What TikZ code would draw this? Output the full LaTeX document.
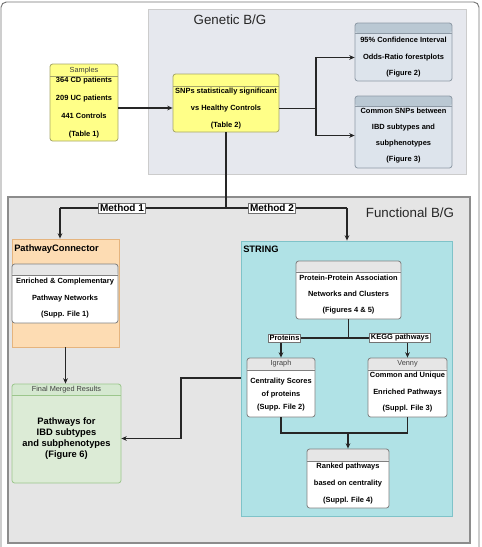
\documentclass[tikz,border=0pt]{standalone}
\usepackage{fontspec}
\setmainfont{Liberation Sans}
\usetikzlibrary{calc, positioning, fit}
\usetikzlibrary{arrows.meta}

\definecolor{yelfill}{HTML}{FFFF88}
\definecolor{yelline}{HTML}{A6A66A}
\definecolor{blufill}{HTML}{DDE4EC}
\definecolor{bluhead}{HTML}{BAC8D3}
\definecolor{bluline}{HTML}{8E9AA6}
\definecolor{orfill}{HTML}{FDDCB3}
\definecolor{orline}{HTML}{E5B47E}
\definecolor{grnfill}{HTML}{DCEBD6}
\definecolor{grnhead}{HTML}{D5E8D0}
\definecolor{grnline}{HTML}{9CC68C}
\definecolor{strfill}{HTML}{B0E2E6}
\definecolor{strline}{HTML}{7FC3C9}
\definecolor{genfill}{HTML}{E6E8EE}
\definecolor{funcfill}{HTML}{E5E5E5}
\definecolor{grayhead}{HTML}{E6E6E6}

\begin{document}
\begin{tikzpicture}[x=0.75pt, y=-0.75pt,
  box/.style={draw=#1, rounded corners=2pt, line width=0.6pt, inner sep=0pt},
  hdr/.style n args={3}{path picture={
      \fill[#2] (path picture bounding box.north west) rectangle ([yshift=-#1]path picture bounding box.north east);
      \draw[#3, line width=0.6pt] ([yshift=-#1]path picture bounding box.north west) -- ([yshift=-#1]path picture bounding box.north east);}},
  txt/.style={font=\fontsize{5.6}{#1}\selectfont\bfseries, align=center, inner sep=0pt},
  bigtxt/.style={font=\fontsize{7}{8.3}\selectfont\bfseries, align=center, inner sep=0pt},
  hdtxt/.style={font=\fontsize{5.5}{6}\selectfont, text=black!75, inner sep=0pt},
  boxtitle/.style={font=\fontsize{7}{8}\selectfont\bfseries, anchor=west, inner sep=0pt},
  meth/.style={draw=black!55, fill=white, line width=0.5pt, inner sep=1pt, font=\fontsize{7.5}{8}\selectfont\bfseries},
  tag/.style={draw=black!55, fill=white, line width=0.5pt, inner sep=1pt, font=\fontsize{5.6}{6}\selectfont\bfseries},
  title/.style={font=\fontsize{10}{12}\selectfont, text=black!85, inner sep=0pt},
  link/.style={line width=0.8pt, black!85},
  arr/.style={link, -{Stealth[length=4pt, width=3.5pt]}}
]
\useasboundingbox (0,0) rectangle (482,547);

% frame and background panels
\draw[black!55, line width=0.7pt, rounded corners=4pt] (1,549) -- (1,2) -- (479,2) -- (479,549);
\node[fill=genfill, draw=black!20, line width=0.6pt, inner sep=0pt, fit={(148,9) (466,174)}] (genetic) {};
\node[title] (genetic-l) at (230,20) {Genetic B/G};
\node[fill=funcfill, draw=black!45, line width=0.9pt, inner sep=0pt, fit={(8,197) (470,543)}] (functional) {};
\node[title] (functional-l) at (410,213) {Functional B/G};

% genetic part
\node[box=yelline, fill=yelfill, hdr={9pt}{yelfill}{yelline}, fit={(50,64) (118,141)}] (samples) {};
\node[hdtxt] (samples-h) at (84,70.5) {Samples};
\node[txt=13.5pt] (samples-t) at (84,108) {364 CD patients\\209 UC patients\\441 Controls\\(Table 1)};

\node[box=yelline, fill=yelfill, hdr={9pt}{yelfill}{yelline}, fit={(173,74) (279,132)}] (snps) {};
\node[txt=12.75pt] (snps-t) at (226,108.5) {SNPs statistically significant\\vs Healthy Controls\\(Table 2)};

\node[box=bluline, fill=blufill, hdr={7.5pt}{bluhead}{bluline}, fit={(355,23) (452,81)}] (ci) {};
\node[txt=12.4pt] (ci-t) at (403.5,57.5) {95\% Confidence Interval\\Odds-Ratio forestplots\\(Figure 2)};

\node[box=bluline, fill=blufill, hdr={7.5pt}{bluhead}{bluline}, fit={(355,96) (452,168)}] (common) {};
\node[txt=11.8pt] (common-t) at (403.5,135.5) {Common SNPs between\\IBD subtypes and\\subphenotypes\\(Figure 3)};

% functional part, method 1
\node[box=orline, rounded corners=0pt, fill=orfill, fit={(12,239) (119,347)}] (pc) {};
\node[boxtitle] (pc-l) at (14,249) {PathwayConnector};
\node[box=black!50, fill=white, hdr={8.25pt}{grayhead}{black!50}, fit={(12,264) (118,323)}] (pcnet) {};
\node[txt=12.4pt] (pcnet-t) at (65,298.5) {Enriched \& Complementary\\Pathway Networks\\(Supp. File 1)};

\node[box=grnline, fill=grnfill, hdr={8.25pt}{grnhead}{grnline}, fit={(12,384) (121,483)}] (final) {};
\node[hdtxt] (final-h) at (66.5,390) {Final Merged Results};
\node[bigtxt] (final-t) at (66.5,438.5) {Pathways for\\IBD subtypes\\and subphenotypes\\(Figure 6)};

% functional part, method 2
\node[box=strline, rounded corners=0pt, fill=strfill, fit={(241,241) (452,516)}] (string) {};
\node[boxtitle] (string-l) at (243,249) {STRING};
\node[box=black!50, fill=white, hdr={8.25pt}{grayhead}{black!50}, fit={(296,261) (401,319)}] (ppa) {};
\node[txt=12pt] (ppa-t) at (348.5,295) {Protein-Protein Association\\Networks and Clusters\\(Figures 4 \& 5)};

\node[box=black!50, fill=white, hdr={9pt}{grayhead}{black!50}, fit={(247,358) (315,417)}] (igraph) {};
\node[hdtxt] (igraph-h) at (281,364) {Igraph};
\node[txt=10pt] (igraph-t) at (281,394.5) {Centrality Scores\\of proteins\\(Supp. File 2)};

\node[box=black!50, fill=white, hdr={9pt}{grayhead}{black!50}, fit={(368,358) (447,417)}] (venny) {};
\node[hdtxt] (venny-h) at (407.5,364) {Venny};
\node[txt=12.4pt] (venny-t) at (407.5,392.5) {Common and Unique\\Enriched Pathways\\(Suppl. File 3)};

\node[box=black!50, fill=white, hdr={9pt}{grayhead}{black!50}, fit={(307,449) (389,508)}] (ranked) {};
\node[txt=12.75pt] (ranked-t) at (348,484) {Ranked pathways\\based on centrality\\(Suppl. File 4)};

% connectors
\coordinate (g) at (316,0);
\draw[arr] (samples.east |- samples-t) -- (snps.west |- samples-t);
\draw[link] (snps.east |- snps-t) -- (g |- snps-t);
\draw[arr] (g |- snps-t) |- (ci.west |- ci-t);
\draw[arr] (g |- snps-t) |- (common.west |- common-t);

\coordinate (m1) at (60,208);
\coordinate (m2) at (347,208);
\draw[link] (snps.south) -- (snps.south |- m1);
\draw[link] (m1) -- (m2);
\draw[arr] (m1) -- (m1 |- pc.north);
\draw[arr] (m2) -- (m2 |- string.north);
\node[meth] (meth1) at (122,208) {Method 1};
\node[meth] (meth2) at (272,208) {Method 2};

\draw[arr] (pc.south) -- (pc.south |- final.north);
\coordinate (k) at (181,378);
\draw[arr] (string.west |- k) -- (k) |- (final.east |- final-t);

\coordinate (p) at (0,338);
\draw[link] (ppa.south) -- (ppa.south |- p);
\draw[link] (igraph.north |- p) -- (venny.north |- p);
\draw[arr] (igraph.north |- p) -- (igraph.north);
\draw[arr] (venny.north |- p) -- (venny.north);
\node[tag] (prot) at (284.5,338) {Proteins};
\node[tag] (kegg) at (400,338) {KEGG pathways};

\coordinate (r) at (0,433);
\draw[link] (igraph.south) |- (ranked.north |- r) -| (venny.south);
\draw[arr] (ranked.north |- r) -- (ranked.north);
\end{tikzpicture}
\end{document}
